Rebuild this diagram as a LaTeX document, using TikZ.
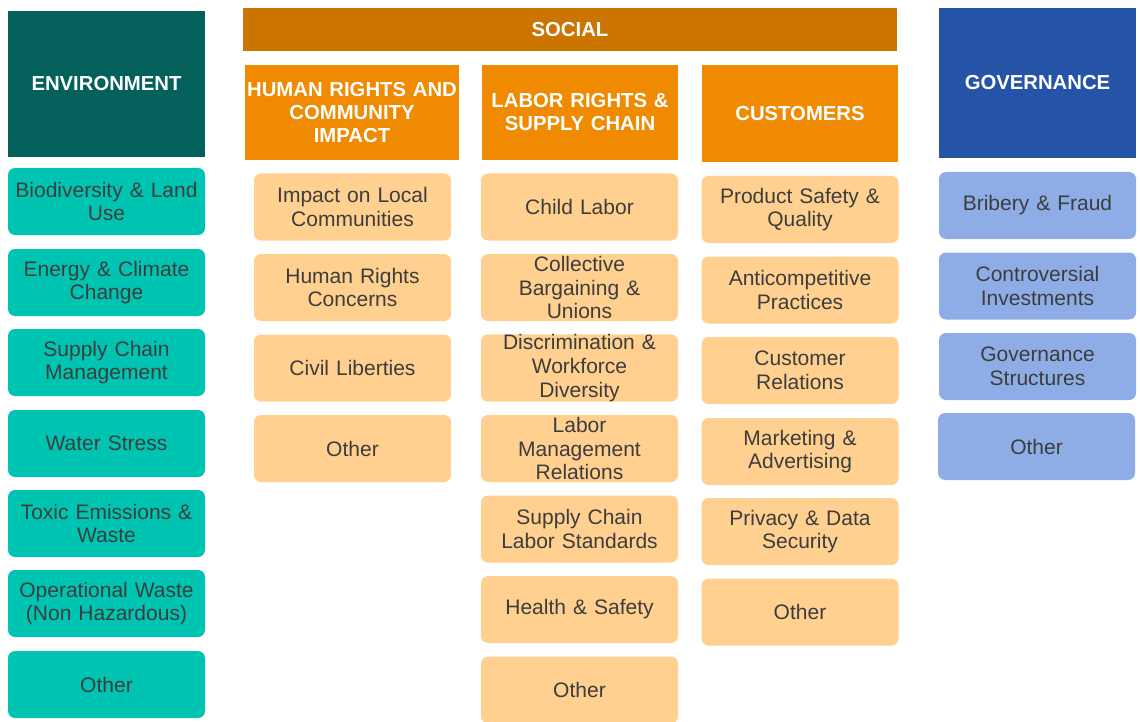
\documentclass[tikz,border=0pt]{standalone}
\usepackage{fontspec}
\setmainfont{Liberation Sans}
\definecolor{envdark}{HTML}{03605A}
\definecolor{envlight}{HTML}{00C4B2}
\definecolor{socdark}{HTML}{CC7400}
\definecolor{socmid}{HTML}{F08A00}
\definecolor{soclight}{HTML}{FFD08F}
\definecolor{govdark}{HTML}{2553A8}
\definecolor{govlight}{HTML}{8EADE6}
\definecolor{txt}{HTML}{3D3D3D}
\tikzset{
  hdr/.style={rectangle, inner sep=0pt, text=white, align=center, font=\fontsize{20.3}{23}\selectfont\bfseries},
  item/.style={rectangle, rounded corners=7pt, inner sep=0pt, minimum width=197pt, minimum height=67pt, text width=195pt, align=center, text=txt, font=\fontsize{21}{23.8}\selectfont},
  envi/.style={item, fill=envlight},
  soci/.style={item, fill=soclight},
  govi/.style={item, fill=govlight},
}
\begin{document}
\begin{tikzpicture}[x=1pt,y=-1pt]
\useasboundingbox (0,0) rectangle (1140,722);
% headers
\node[hdr, fill=envdark, minimum width=197pt, minimum height=146pt] (env) at (106.5,84) {ENVIRONMENT};
\node[hdr, fill=socdark, minimum width=654pt, minimum height=43pt] (soc) at (570,29.5) {SOCIAL};
\node[hdr, fill=socmid, minimum width=212pt, minimum height=95pt, text width=214pt] (hr) at (352,112.5) {HUMAN RIGHTS AND\\COMMUNITY\\IMPACT};
\node[hdr, fill=socmid, minimum width=196pt, minimum height=95pt, text width=196pt] (lab) at (580,112.5) {LABOR RIGHTS \&\\SUPPLY CHAIN};
\node[hdr, fill=socmid, minimum width=196pt, minimum height=97pt] (cus) at (800,113.5) {CUSTOMERS};
\node[hdr, fill=govdark, minimum width=197pt, minimum height=150pt] (gov) at (1037.5,83) {GOVERNANCE};
% environment
\node[envi] (e1) at (106.5,201.5) {Biodiversity \& Land\\Use};
\node[envi] (e2) at (106.5,282.5) {Energy \& Climate\\Change};
\node[envi] (e3) at (106.5,362.5) {Supply Chain\\Management};
\node[envi] (e4) at (106.5,443.5) {Water Stress};
\node[envi] (e5) at (106.5,523.5) {Toxic Emissions \&\\Waste};
\node[envi] (e6) at (106.5,603.5) {Operational Waste\\(Non Hazardous)};
\node[envi] (e7) at (106.5,684.5) {Other};
% human rights
\node[soci] (h1) at (352.5,207) {Impact on Local\\Communities};
\node[soci] (h2) at (352.5,287.5) {Human Rights\\Concerns};
\node[soci] (h3) at (352.5,368) {Civil Liberties};
\node[soci] (h4) at (352.5,448.5) {Other};
% labor
\node[soci] (l1) at (579.5,207) {Child Labor};
\node[soci] (l2) at (579.5,287.5) {Collective\\Bargaining \&\\Unions};
\node[soci] (l3) at (579.5,368) {Discrimination \&\\Workforce\\Diversity};
\node[soci] (l4) at (579.5,448.5) {Labor\\Management\\Relations};
\node[soci] (l5) at (579.5,529) {Supply Chain\\Labor Standards};
\node[soci] (l6) at (579.5,609.5) {Health \& Safety};
\node[soci] (l7) at (579.5,690) {Other};
% customers
\node[soci] (c1) at (800,209.5) {Product Safety \&\\Quality};
\node[soci] (c2) at (800,290) {Anticompetitive\\Practices};
\node[soci] (c3) at (800,370.5) {Customer\\Relations};
\node[soci] (c4) at (800,451.5) {Marketing \&\\Advertising};
\node[soci] (c5) at (800,531.5) {Privacy \& Data\\Security};
\node[soci] (c6) at (800,612) {Other};
% governance
\node[govi] (g1) at (1037.5,205.5) {Bribery \& Fraud};
\node[govi] (g2) at (1037.5,286) {Controversial\\Investments};
\node[govi] (g3) at (1037.5,366.5) {Governance\\Structures};
\node[govi] (g4) at (1036.5,446.5) {Other};
\end{tikzpicture}
\end{document}
